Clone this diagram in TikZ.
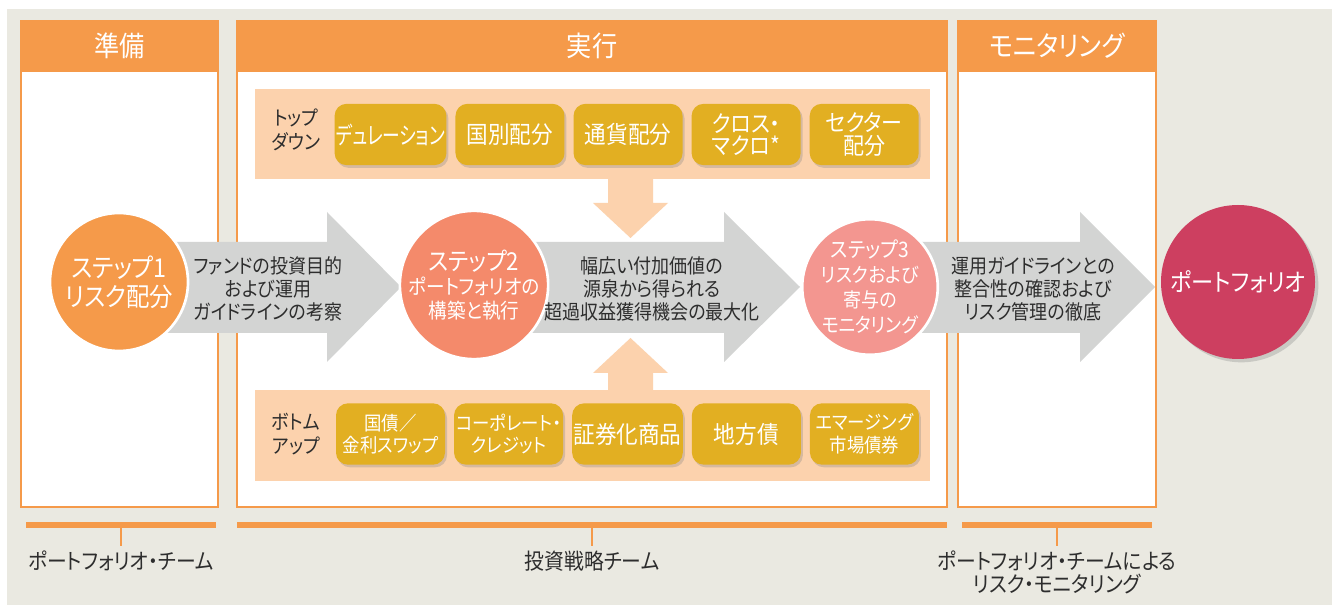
\documentclass[tikz,border=0pt]{standalone}
\usepackage{fontspec}
\setmainfont{Noto Sans CJK JP}[RawFeature=+palt,FakeStretch=0.9]
\usepackage{graphicx}
\usepackage{tikz}
\usetikzlibrary{positioning}
\usetikzlibrary{shadows}
\usetikzlibrary{shapes}

\definecolor{bgGray}{RGB}{234,233,225}
\definecolor{panelOrange}{RGB}{245,154,74}
\definecolor{bandPeach}{RGB}{252,210,173}
\definecolor{pillGold}{RGB}{226,175,34}
\definecolor{arrowGray}{RGB}{211,212,211}
\definecolor{stepSalmon}{RGB}{244,138,107}
\definecolor{stepPink}{RGB}{243,150,144}
\definecolor{portCrimson}{RGB}{205,63,96}
\definecolor{textDark}{RGB}{45,45,45}

\tikzset{
        % Panels
        panel_body/.style={draw=panelOrange, line width=1.75pt, fill=white},
        panel_head/.style={fill=panelOrange},
        head_text/.style={text=white, font=\fontsize{21}{24}\selectfont},
        % Peach bands
        band/.style={fill=bandPeach},
        band_label/.style={align=center, text=textDark, font=\fontsize{15}{18}\selectfont},
        % Gold pills
        pill/.style={rectangle, rounded corners=9pt, fill=pillGold, text=white, align=center,
                minimum width=81.75pt, minimum height=46pt, inner sep=1pt,
                drop shadow={shadow xshift=1.5pt, shadow yshift=-2pt, opacity=0.3}},
        pill_one/.style={pill, font=\fontsize{18}{19}\selectfont},
        pill_two/.style={pill, font=\fontsize{17.5}{17}\selectfont},
        pill_low/.style={pill, font=\fontsize{14.5}{17}\selectfont},
        % Step circles
        step_circle/.style={circle, draw=white, line width=2pt, inner sep=0pt, align=center, text=white},
        % Grey block arrows
        flow_arrow/.style={fill=arrowGray},
        flow_text/.style={align=center, text=textDark, font=\fontsize{15}{17.5}\selectfont},
        % Team brackets
        team_bar/.style={draw=panelOrange, line width=4.5pt},
        team_tick/.style={draw=panelOrange, line width=2pt},
        team_label/.style={align=center, anchor=north, inner sep=0pt, text=textDark, font=\fontsize{16.5}{17}\selectfont}
}

\begin{document}
\begin{tikzpicture}[x=0.75pt, y=-0.75pt]
    \useasboundingbox (0,0) rectangle (1332,605);
    \fill[bgGray] (7,9) rectangle (1332,605);

    % Panels
    \draw[panel_body] (21,21) rectangle (218,507);
    \fill[panel_head] (20,20) rectangle (219,72);
    \draw[panel_body] (237,21) rectangle (947,507);
    \fill[panel_head] (236,20) rectangle (948,72);
    \draw[panel_body] (958,21) rectangle (1156,507);
    \fill[panel_head] (957,20) rectangle (1157,72);
    \node[head_text] (prep_head) at (119.5,46) {準備};
    \node[head_text] (exec_head) at (592,46) {実行};
    \node[head_text] (mon_head) at (1057,46) {モニタリング};

    % Bands
    \fill[band] (255,89) rectangle (930,179);
    \fill[band] (255,390) rectangle (930,481);
    \fill[band] (608,179) -- (608,203) -- (593,203) -- (630.5,238) -- (668,203) -- (653,203) -- (653,179) -- cycle;
    \fill[band] (608,390) -- (608,373) -- (593,373) -- (630.5,338) -- (668,373) -- (653,373) -- (653,390) -- cycle;

    \node[band_label] (td_label) at (296,130) {トップ\\ダウン};
    \node[pill_one] (td_duration) at (390.5,134.5) {\scalebox{0.82}[1]{デュレーション}};
    \node[pill_one, right=6.4pt of td_duration] (td_country) {国別配分};
    \node[pill_one, right=6.4pt of td_country] (td_currency) {通貨配分};
    \node[pill_two, right=6.4pt of td_currency] (td_macro) {クロス・\\マクロ*};
    \node[pill_two, right=6.4pt of td_macro] (td_sector) {セクター\\配分};

    \node[band_label] (bu_label) at (296,434) {ボトム\\アップ};
    \node[pill_low] (bu_govt) at (390.5,434) {国債／\\金利スワップ};
    \node[pill_low, right=6.4pt of bu_govt] (bu_credit) {コーポレート・\\クレジット};
    \node[pill_one, right=6.4pt of bu_credit] (bu_secur) {証券化商品};
    \node[pill_one, right=6.4pt of bu_secur] (bu_muni) {地方債};
    \node[pill_low, right=6.4pt of bu_muni] (bu_em) {エマージング\\市場債券};

    % Grey block arrows
    \fill[flow_arrow] (150,242) -- (327,242) -- (327,212) -- (401,287) -- (327,362) -- (327,333) -- (150,333) -- cycle;
    \fill[flow_arrow] (500,242) -- (724,242) -- (724,212) -- (800,287) -- (724,362) -- (724,333) -- (500,333) -- cycle;
    \fill[flow_arrow] (900,242) -- (1080,242) -- (1080,212) -- (1155,287) -- (1080,362) -- (1080,333) -- (900,333) -- cycle;

    % Step circles
    \node[step_circle, fill=panelOrange, minimum size=103.5pt, font=\fontsize{19.5}{22}\selectfont] (step_one) at (119,282) {ステップ1\\リスク配分};
    \node[step_circle, fill=stepSalmon, minimum size=103.5pt, font=\fontsize{15.5}{18}\selectfont] (step_two) at (474,285)
        {{\fontsize{18.5}{21}\selectfont ステップ2}\\ポートフォリオの\\構築と執行};
    \node[step_circle, fill=stepPink, minimum size=97.5pt, font=\fontsize{15}{18.75}\selectfont] (step_three) at (870,287)
        {{\fontsize{16}{18.75}\selectfont ステップ3}\\リスクおよび\\寄与の\\モニタリング};
    \node[circle, fill=portCrimson, minimum size=115.5pt, inner sep=0pt, text=white, font=\fontsize{18.5}{20}\selectfont,
        drop shadow={shadow xshift=2.5pt, shadow yshift=-2.5pt, opacity=0.3}] (portfolio) at (1238,282) {ポートフォリオ};

    \node[flow_text] (goal_text) at (268,289) {ファンドの投資目的\\および運用\\ガイドラインの考察};
    \node[flow_text] (alpha_text) at (652,289) {幅広い付加価値の\\源泉から得られる\\超過収益獲得機会の最大化};
    \node[flow_text] (check_text) at (1033,289) {運用ガイドラインとの\\整合性の確認および\\リスク管理の徹底};

    % Team brackets
    \draw[team_bar] (26,525) -- (216,525);
    \draw[team_bar] (237,525) -- (947,525);
    \draw[team_bar] (962,525) -- (1152,525);
    \coordinate (prep_mid) at (121,527);
    \coordinate (exec_mid) at (592,527);
    \coordinate (mon_mid) at (1057,527);
    \node[team_label] (pf_team) at (121,551) {ポートフォリオ・チーム};
    \node[team_label] (inv_team) at (592,551) {投資戦略チーム};
    \node[team_label] (risk_team) at (1057,551) {ポートフォリオ・チームによる\\リスク・モニタリング};
    \draw[team_tick] (prep_mid) -- ++(0,19);
    \draw[team_tick] (exec_mid) -- ++(0,19);
    \draw[team_tick] (mon_mid) -- ++(0,19);
\end{tikzpicture}
\end{document}
